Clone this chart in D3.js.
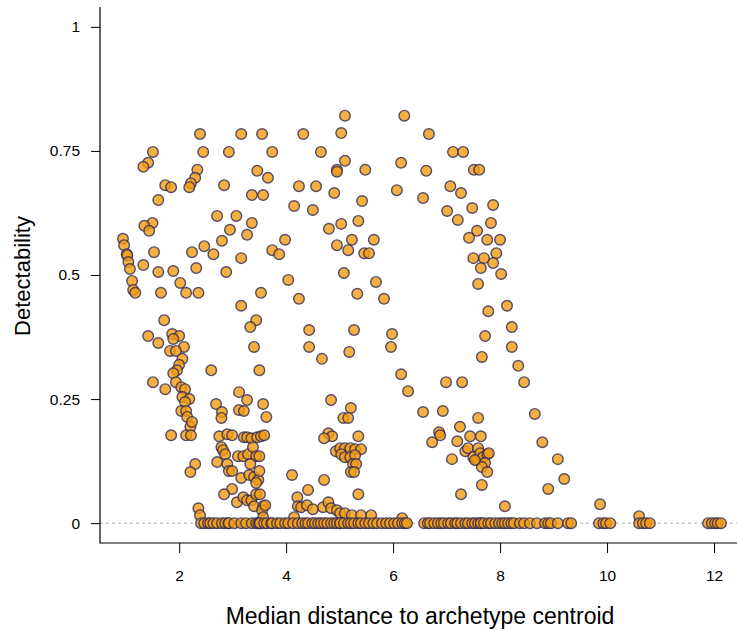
<!DOCTYPE html>
<html>
<head>
<meta charset="utf-8">
<script src="https://cdn.jsdelivr.net/npm/d3@7"></script>
<style>
body { margin: 0; background: #fff; }
text { font-family: "Liberation Sans", Arial, Helvetica, sans-serif; fill: #000; }
</style>
</head>
<body>
<svg width="737" height="630"></svg>
<script>
// points with clear detectability, [median distance, detectability]
let pointsUpper = [
    [2.39,0.784],[3.16,0.784],[3.55,0.784],[4.32,0.784],[1.51,0.748],[2.45,0.748],[2.93,0.748],[3.74,0.748],
    [4.65,0.748],[1.42,0.726],[1.33,0.718],[2.34,0.712],[2.30,0.696],[2.22,0.685],[2.19,0.677],[1.74,0.681],
    [1.85,0.677],[2.84,0.681],[3.46,0.710],[3.66,0.696],[4.24,0.679],[4.56,0.679],[3.36,0.661],[3.57,0.661],
    [1.61,0.651],[4.15,0.639],[4.50,0.631],[2.71,0.619],[3.07,0.619],[3.36,0.605],[1.50,0.605],[1.35,0.599],
    [1.44,0.589],[2.95,0.591],[3.27,0.581],[2.80,0.569],[3.98,0.571],[0.95,0.573],[0.97,0.560],[1.02,0.542],
    [1.03,0.540],[1.05,0.526],[1.08,0.512],[2.47,0.558],[2.24,0.546],[2.64,0.542],[1.53,0.546],[3.74,0.550],
    [3.87,0.542],[3.16,0.534],[1.33,0.520],[2.32,0.514],[1.61,0.506],[1.89,0.508],[2.88,0.506],[4.04,0.490],
    [1.12,0.488],[1.14,0.470],[1.18,0.464],[2.02,0.484],[1.66,0.464],[2.13,0.464],[2.36,0.464],[3.53,0.464],
    [4.24,0.452],[3.16,0.438],[1.72,0.409],[3.44,0.409],
    [5.10,0.821],[6.21,0.821],[5.03,0.786],[6.67,0.784],[7.12,0.748],[7.31,0.748],[5.10,0.730],[6.15,0.726],
    [4.95,0.712],[4.95,0.708],[5.48,0.712],[6.62,0.710],[7.51,0.712],[7.61,0.712],[4.90,0.665],[5.42,0.649],
    [6.07,0.671],[6.56,0.655],[7.07,0.679],[7.27,0.665],[7.01,0.629],[7.21,0.611],[7.48,0.635],[7.87,0.641],
    [4.80,0.593],[5.03,0.603],[5.35,0.609],[7.83,0.605],[7.57,0.589],[7.42,0.575],[7.76,0.571],[8.00,0.571],
    [4.95,0.560],[5.16,0.550],[5.23,0.571],[5.64,0.571],[5.46,0.544],[5.55,0.544],[7.93,0.544],[7.50,0.534],
    [7.70,0.534],[7.87,0.524],[7.64,0.514],[8.02,0.502],[5.08,0.504],[5.68,0.486],[7.59,0.482],[5.33,0.462],
    [5.83,0.452],[7.78,0.427],[8.13,0.438]
]

// low but non-zero detectability
let pointsLower = [
    [3.33,0.395],[4.43,0.389],[1.42,0.377],[1.61,0.363],[1.87,0.381],[2.00,0.377],[1.89,0.371],[2.09,0.355],
    [1.83,0.347],[1.94,0.347],[2.06,0.331],[3.40,0.355],[4.43,0.355],[2.00,0.319],[1.96,0.308],[1.89,0.302],
    [2.60,0.308],[3.50,0.308],[1.51,0.284],[1.74,0.270],[1.94,0.284],[2.04,0.274],[2.11,0.270],[2.06,0.254],
    [2.19,0.250],[2.11,0.244],[2.04,0.226],[2.13,0.226],[2.15,0.214],[2.21,0.194],[2.24,0.204],[1.85,0.177],
    [2.13,0.177],[2.22,0.177],[3.12,0.264],[3.27,0.248],[2.69,0.240],[2.80,0.224],[2.79,0.212],[3.12,0.228],
    [3.21,0.226],[3.57,0.240],[3.63,0.214],[2.75,0.175],[2.90,0.179],[2.99,0.177],[3.21,0.173],[3.27,0.173],
    [3.35,0.171],[3.46,0.173],[3.53,0.175],[3.59,0.177],[2.79,0.153],[2.82,0.147],[2.86,0.139],[3.10,0.135],
    [3.20,0.135],[3.29,0.139],[3.38,0.153],[3.44,0.135],[3.50,0.135],[3.33,0.119],[2.71,0.123],[2.90,0.119],
    [2.93,0.105],[2.99,0.105],[3.16,0.091],[3.31,0.097],[3.40,0.093],[3.48,0.087],[3.44,0.081],[3.50,0.105],
    [4.11,0.097],[2.30,0.119],[2.21,0.103],[2.99,0.069],[2.84,0.058],[3.08,0.042],[3.20,0.052],[3.27,0.046],
    [3.35,0.046],[3.44,0.058],[3.51,0.058],[3.40,0.034],[3.57,0.034],[3.55,0.026],[3.57,0.012],[3.61,0.036],
    [4.21,0.052],[4.22,0.034],[4.15,0.012],[2.36,0.030],[2.39,0.016],[4.41,0.067],[4.28,0.032],[4.39,0.036],
    [4.50,0.028],[4.69,0.032],[4.79,0.042],[4.84,0.030],[4.95,0.026],[5.01,0.020],[5.10,0.020],[5.23,0.016],
    [5.40,0.016],[5.59,0.016],[6.17,0.010],
    [5.27,0.389],[5.98,0.381],[5.18,0.345],[5.96,0.355],[4.67,0.331],[8.22,0.395],[7.72,0.377],[8.22,0.355],
    [7.66,0.335],[8.34,0.317],[6.15,0.300],[6.28,0.266],[6.99,0.284],[7.29,0.284],[8.45,0.284],[4.84,0.248],
    [5.21,0.232],[5.07,0.212],[5.16,0.212],[6.56,0.224],[6.93,0.226],[7.59,0.212],[8.65,0.220],[7.25,0.194],
    [6.86,0.183],[6.88,0.177],[6.73,0.163],[7.44,0.175],[7.64,0.175],[7.20,0.165],[8.79,0.163],[4.79,0.181],
    [4.86,0.175],[4.71,0.171],[5.35,0.175],[4.93,0.145],[5.01,0.151],[5.10,0.151],[5.20,0.151],[5.29,0.149],
    [5.40,0.149],[5.03,0.139],[5.10,0.133],[5.20,0.133],[5.29,0.137],[5.25,0.119],[5.31,0.119],[5.21,0.103],
    [5.27,0.103],[4.71,0.087],[5.35,0.058],[7.35,0.145],[7.40,0.151],[7.50,0.133],[7.57,0.127],[7.59,0.151],
    [7.63,0.141],[7.68,0.133],[7.76,0.139],[7.79,0.141],[7.72,0.121],[7.66,0.113],[7.76,0.103],[7.53,0.127],
    [7.10,0.129],[9.08,0.129],[9.20,0.089],[8.90,0.069],[7.66,0.077],[7.27,0.058],[8.09,0.034],[9.87,0.038],
    [10.60,0.014]
]

// median distances of the archetypes with zero detectability
let zeroDistances = [
    2.41,2.47,2.54,2.58,2.64,2.71,2.80,2.86,2.92,2.93,3.03,3.16,3.25,3.36,3.44,3.48,3.51,3.51,3.59,3.64,
    3.72,3.74,3.83,3.89,3.98,4.04,4.13,4.22,4.30,4.36,4.41,4.49,4.54,4.60,4.65,4.71,4.77,4.84,4.90,4.95,
    5.01,5.01,5.08,5.16,5.21,5.27,5.35,5.40,5.48,5.55,5.63,5.70,5.79,5.87,5.94,6.02,6.09,6.17,6.22,6.26,
    6.58,6.65,6.69,6.77,6.84,6.90,6.95,7.03,7.08,7.16,7.20,7.27,7.35,7.40,7.48,7.53,7.59,7.64,7.64,7.70,
    7.78,7.83,7.91,7.98,8.04,8.09,8.15,8.21,8.26,8.37,8.45,8.56,8.69,8.84,8.90,8.95,9.08,9.27,9.33,
    9.85,9.93,9.98,10.06,10.60,10.67,10.73,10.80,11.89,11.96,12.02,12.07,12.13
]

let xTicks = [2, 4, 6, 8, 10, 12]
let yTicks = [0, 0.25, 0.5, 0.75, 1]

let points = pointsUpper.concat(pointsLower).concat(zeroDistances.map(v => [v, 0]))

let svg = d3.select('svg')

let x = d3.scaleLinear().domain([0.52, 12.43]).range([100, 737])
let y = d3.scaleLinear().domain([-0.04, 1.04]).range([543, 7])

// zero reference line
svg.append('line')
    .attr('x1', 100)
    .attr('x2', 737)
    .attr('y1', y(0))
    .attr('y2', y(0))
    .attr('stroke', '#aaa')
    .attr('stroke-width', 1)
    .attr('stroke-dasharray', '3,3')

svg.append('g')
    .selectAll('circle')
    .data(points)
    .enter()
    .append('circle')
    .attr('cx', d => x(d[0]))
    .attr('cy', d => y(d[1]))
    .attr('r', 5.3)
    .attr('fill', '#f39c12')
    .attr('fill-opacity', 0.8)
    .attr('stroke', '#2c2858')
    .attr('stroke-opacity', 0.8)
    .attr('stroke-width', 1.4)

let xAxis = svg.append('g')
    .attr('transform', 'translate(0,543)')
    .call(d3.axisBottom(x).tickValues(xTicks).tickSize(10).tickPadding(17).tickFormat(d3.format('d')))
let yAxis = svg.append('g')
    .attr('transform', 'translate(100,0)')
    .call(d3.axisLeft(y).tickValues(yTicks).tickSize(9).tickPadding(11).tickFormat(d => String(d)))

xAxis.select('.domain').remove()
yAxis.select('.domain').remove()
svg.selectAll('.tick line').attr('stroke', '#000')
svg.selectAll('.tick text').attr('font-size', 15.5).attr('font-family', '"Liberation Sans", Arial, sans-serif')

// L-shaped frame
svg.append('path')
    .attr('d', 'M100,7V543H737')
    .attr('fill', 'none')
    .attr('stroke', '#000')
    .attr('stroke-width', 1.2)

svg.append('text')
    .text('Median distance to archetype centroid')
    .attr('x', 420)
    .attr('y', 624)
    .attr('text-anchor', 'middle')
    .attr('font-size', 23)

svg.append('text')
    .text('Detectability')
    .attr('transform', 'translate(30,276) rotate(-90)')
    .attr('text-anchor', 'middle')
    .attr('font-size', 22)
</script>
</body>
</html>
